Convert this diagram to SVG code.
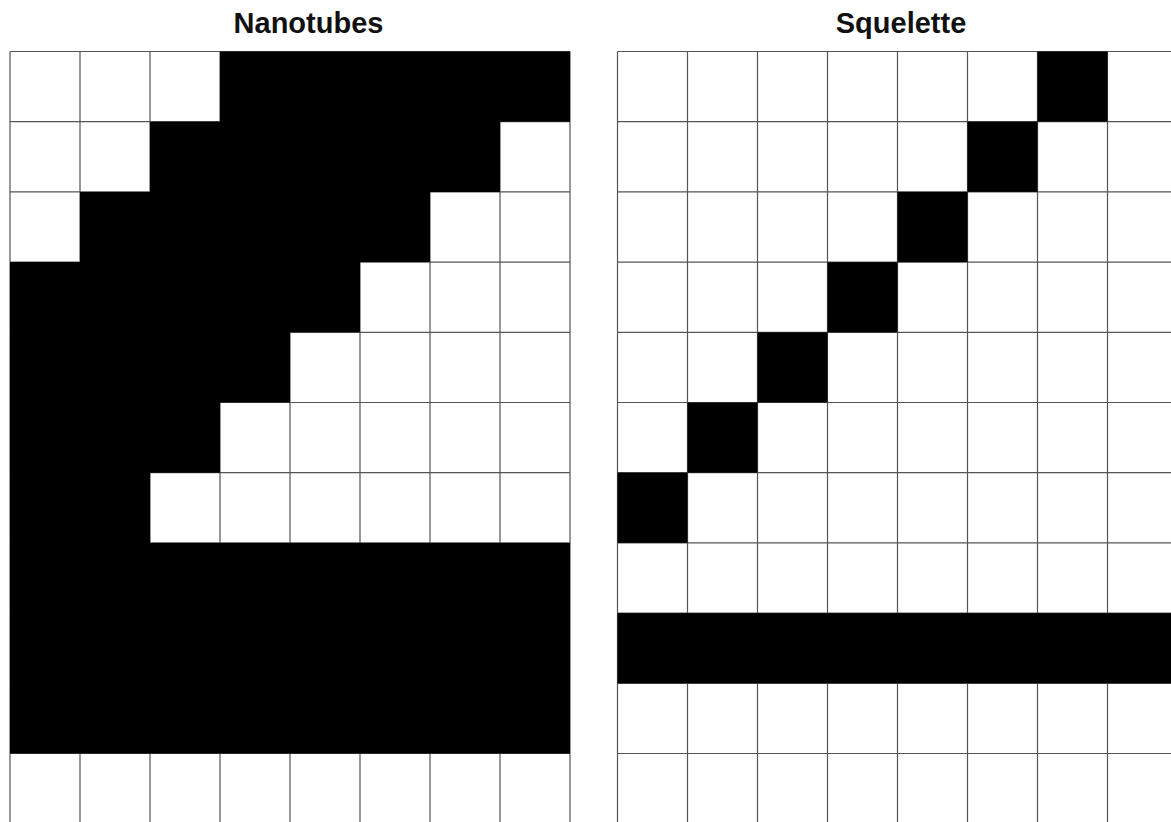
<svg xmlns="http://www.w3.org/2000/svg" width="1171" height="822" viewBox="0 0 1171 822">
<style>
.title{font-family:"Liberation Sans",Arial,sans-serif;font-weight:bold;font-size:29px;fill:#111;text-anchor:middle}
.grid{stroke:#555;stroke-width:1.2;fill:none}
.blk{fill:#000}
</style>
<rect width="1171" height="822" fill="#fff"/>
<g id="title-nanotubes"><text class="title" x="308.5" y="32.5">Nanotubes</text></g>
<g id="title-squelette"><text class="title" x="901" y="32.5">Squelette</text></g>
<g id="grid-nanotubes">
<path class="grid" d="M10 51.5V830M80 51.5V830M150 51.5V830M220 51.5V830M290 51.5V830M360 51.5V830M430 51.5V830M500 51.5V830M570 51.5V830M10 51.5H570M10 121.7H570M10 191.9H570M10 262.1H570M10 332.3H570M10 402.5H570M10 472.7H570M10 542.9H570M10 613.1H570M10 683.3H570M10 753.5H570"/>
<path class="blk" d="M220 51.5H570V121.7H500V191.9H430V262.1H360V332.3H290V402.5H220V472.7H150V542.9H570V753.5H10V262.1H80V191.9H150V121.7H220Z"/>
</g>
<g id="grid-squelette">
<path class="grid" d="M617.5 51.5V830M687.5 51.5V830M757.5 51.5V830M827.5 51.5V830M897.5 51.5V830M967.5 51.5V830M1037.5 51.5V830M1107.5 51.5V830M617.5 51.5H1180M617.5 121.7H1180M617.5 191.9H1180M617.5 262.1H1180M617.5 332.3H1180M617.5 402.5H1180M617.5 472.7H1180M617.5 542.9H1180M617.5 613.1H1180M617.5 683.3H1180M617.5 753.5H1180"/>
<rect class="blk" x="1037.5" y="51.5" width="70" height="70.2"/>
<rect class="blk" x="967.5" y="121.7" width="70" height="70.2"/>
<rect class="blk" x="897.5" y="191.9" width="70" height="70.2"/>
<rect class="blk" x="827.5" y="262.1" width="70" height="70.2"/>
<rect class="blk" x="757.5" y="332.3" width="70" height="70.2"/>
<rect class="blk" x="687.5" y="402.5" width="70" height="70.2"/>
<rect class="blk" x="617.5" y="472.7" width="70" height="70.2"/>
<rect class="blk" x="617.5" y="613.1" width="560" height="70.2"/>
</g>
</svg>
